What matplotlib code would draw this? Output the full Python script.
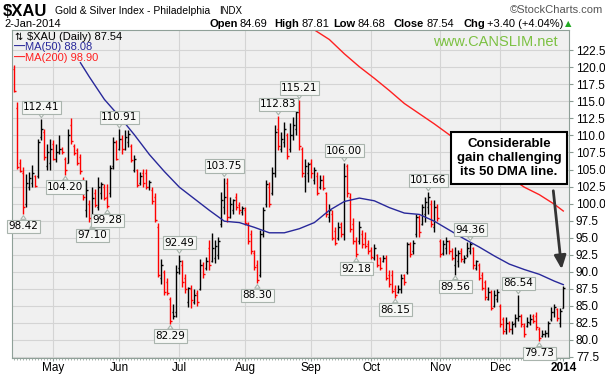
import numpy as np
import pandas as pd
import matplotlib
matplotlib.use("Agg")
from matplotlib import pyplot as plt

plt.rcParams['font.family'] = ['Liberation Sans', 'DejaVu Sans']

# daily bars, 12-Apr-2013 .. 2-Jan-2014
highs = [120.3, 114.9, 106.6, 105.4, 104.4, 104.6, 105.6, 104.2, 109.5, 112.41,
         110.9, 108.8, 109.5, 109.3, 108.8, 110.0, 108.3, 106.9, 111.0, 112.6,
         108.8, 108.1, 107.3, 103.9, 103.4, 100.5, 102.4, 102.2, 103.9, 103.2,
         102.9, 102.9, 105.6, 109.8, 109.3, 110.91, 110.0, 110.8, 110.8, 108.8,
         107.1, 105.1, 104.6, 105.1, 105.1, 103.4, 102.4, 101.5, 97.1, 91.9,
         90.2, 89.0, 86.3, 85.3, 90.9, 92.49, 91.7, 89.7, 87.7, 88.0,
         87.5, 87.3, 91.9, 91.4, 92.2, 94.6, 95.6, 94.6, 95.1, 101.7,
         103.75, 103.7, 101.0, 100.7, 101.5, 100.2, 99.7, 99.5, 97.3, 96.1,
         93.1, 91.7, 96.1, 99.5, 103.4, 103.2, 105.4, 111.5, 112.83, 110.5,
         112.0, 110.3, 111.8, 112.7, 114.2, 115.21, 108.3, 106.6, 106.1, 106.6,
         105.4, 104.6, 104.2, 104.2, 101.7, 100.0, 99.0, 96.6, 97.3, 97.3,
         106.00, 105.8, 101.5, 97.8, 95.1, 97.5, 96.1, 95.8, 94.6, 93.6,
         94.1, 92.6, 92.2, 92.4, 92.4, 90.2, 90.2, 88.0, 88.0, 89.7,
         89.7, 94.4, 94.4, 94.6, 98.5, 98.3, 100.0, 101.0, 101.66, 100.5,
         100.5, 100.0, 94.8, 94.6, 95.1, 94.6, 93.4, 93.6, 93.1, 93.4,
         92.4, 94.4, 94.36, 93.6, 91.7, 91.2, 89.9, 88.7, 87.7, 87.3,
         87.3, 87.5, 85.3, 83.3, 83.3, 82.8, 82.8, 83.8, 86.54, 83.8,
         82.4, 83.3, 83.8, 83.8, 84.1, 81.9, 81.4, 81.4, 82.8, 84.8,
         85.3, 84.6, 84.6, 87.81]
lows = [116.4, 105.1, 104.6, 98.42, 99.5, 102.0, 102.4, 102.4, 103.7, 109.3,
        106.4, 104.9, 104.9, 106.4, 106.1, 107.3, 107.3, 104.2, 105.9, 108.8,
        107.1, 105.6, 104.4, 100.5, 98.0, 97.3, 97.10, 99.5, 99.0, 100.7,
        100.5, 99.28, 101.0, 105.1, 106.4, 107.8, 107.3, 107.8, 108.3, 106.1,
        104.6, 102.4, 102.7, 102.4, 102.2, 102.0, 100.0, 97.3, 89.2, 88.2,
        86.5, 86.5, 82.29, 83.1, 83.3, 89.7, 87.7, 86.8, 84.8, 84.6,
        85.3, 85.0, 87.3, 89.0, 90.2, 90.2, 91.4, 91.2, 91.9, 96.6,
        98.5, 97.3, 97.8, 98.5, 99.0, 98.5, 98.3, 96.8, 94.1, 92.6,
        90.2, 88.30, 89.2, 95.1, 99.5, 99.5, 101.2, 103.9, 107.8, 107.6,
        108.3, 106.6, 107.6, 109.3, 110.0, 107.8, 103.9, 101.7, 103.2, 103.7,
        102.9, 101.2, 102.2, 102.0, 98.0, 97.3, 94.6, 93.9, 94.6, 95.1,
        94.6, 101.0, 95.8, 94.1, 92.18, 94.1, 93.4, 93.4, 92.6, 91.9,
        91.7, 90.7, 90.2, 91.4, 88.7, 87.7, 86.8, 86.15, 86.8, 86.8,
        88.0, 89.7, 92.2, 92.6, 95.1, 95.1, 96.8, 97.3, 98.5, 96.6,
        95.8, 97.5, 92.2, 92.4, 92.6, 92.6, 91.7, 89.56, 90.7, 91.4,
        91.2, 92.2, 92.6, 90.4, 90.2, 88.7, 87.3, 85.8, 85.8, 84.3,
        84.8, 85.5, 81.9, 80.9, 80.9, 81.1, 80.9, 81.9, 82.8, 81.9,
        80.4, 81.9, 82.1, 82.4, 81.4, 79.73, 80.4, 80.4, 80.4, 82.8,
        83.3, 82.8, 81.9, 84.68]
closes = [116.5, 105.4, 104.8, 99.5, 103.0, 103.8, 104.5, 102.6, 109.0, 111.0,
          106.8, 107.5, 108.0, 106.6, 107.6, 108.0, 107.5, 105.0, 110.0, 109.2,
          107.4, 106.0, 104.8, 101.0, 102.0, 97.8, 100.8, 99.8, 102.5, 102.8,
          100.8, 99.6, 105.2, 109.0, 106.6, 109.5, 108.0, 109.8, 110.2, 106.4,
          106.6, 102.7, 104.0, 103.0, 102.5, 103.2, 100.3, 97.6, 89.5, 91.0,
          87.0, 86.8, 82.8, 83.5, 90.0, 91.5, 88.5, 87.5, 87.6, 85.8,
          86.5, 85.5, 91.0, 89.6, 91.5, 91.0, 93.5, 93.8, 94.5, 100.5,
          101.0, 98.0, 100.0, 100.5, 99.5, 99.0, 99.3, 97.2, 94.5, 93.0,
          90.6, 88.8, 95.5, 99.0, 102.8, 100.0, 104.5, 110.5, 108.5, 109.5,
          111.0, 107.0, 110.0, 111.5, 113.5, 108.5, 104.5, 105.5, 105.8, 104.5,
          105.0, 101.5, 103.5, 102.3, 98.5, 99.0, 95.0, 94.2, 96.5, 95.5,
          104.0, 101.5, 96.2, 94.5, 92.6, 96.5, 94.0, 93.8, 93.0, 92.2,
          93.5, 91.0, 90.5, 92.0, 89.0, 88.2, 87.2, 86.6, 87.5, 89.0,
          88.4, 94.0, 92.6, 94.2, 98.0, 95.8, 99.5, 100.2, 101.0, 97.0,
          99.5, 97.8, 92.6, 94.0, 94.5, 93.0, 92.0, 92.5, 92.8, 91.8,
          92.0, 93.5, 94.0, 91.0, 91.5, 89.0, 87.6, 86.2, 87.0, 84.7,
          86.5, 87.0, 82.3, 81.2, 82.5, 81.5, 82.3, 83.2, 83.5, 82.3,
          80.8, 82.6, 83.0, 82.7, 81.8, 80.2, 80.8, 81.0, 82.5, 84.0,
          84.8, 83.2, 84.14, 87.54]
opens = [119.8, 114.0, 106.0, 104.5, 100.0, 102.5, 103.0, 104.0, 104.0, 109.8,
         110.5, 105.5, 106.0, 108.8, 106.5, 107.5, 108.0, 106.5, 106.0, 111.5,
         108.5, 107.8, 106.8, 103.5, 99.0, 100.0, 98.0, 101.5, 99.5, 101.5,
         102.5, 101.0, 101.5, 105.5, 109.0, 108.0, 109.5, 108.0, 109.0, 108.5,
         105.0, 105.0, 103.0, 104.5, 104.5, 102.5, 102.0, 101.0, 96.5, 89.0,
         90.0, 88.5, 86.0, 84.0, 84.0, 90.5, 91.0, 89.0, 85.5, 87.5,
         85.5, 86.8, 87.5, 91.0, 90.5, 93.5, 91.5, 92.0, 92.5, 97.0,
         99.5, 103.0, 98.0, 99.0, 101.0, 99.8, 98.8, 99.0, 97.0, 95.5,
         92.8, 91.0, 89.5, 95.5, 100.0, 102.5, 101.5, 104.5, 111.0, 108.0,
         109.0, 110.0, 108.0, 110.0, 111.0, 113.5, 108.0, 104.0, 104.5, 106.0,
         103.5, 104.0, 102.5, 103.5, 101.5, 98.0, 98.5, 96.0, 95.0, 97.0,
         95.5, 105.5, 101.0, 97.0, 94.5, 94.5, 95.5, 95.0, 94.0, 93.2,
         92.0, 92.5, 92.0, 91.5, 92.0, 89.5, 89.5, 87.5, 87.0, 87.5,
         89.5, 90.0, 94.0, 93.0, 95.5, 98.0, 97.0, 98.5, 99.5, 100.0,
         96.5, 99.5, 94.5, 92.8, 93.5, 94.5, 93.0, 91.0, 91.5, 93.0,
         91.5, 92.5, 93.0, 93.5, 90.5, 91.0, 89.5, 88.5, 86.0, 87.0,
         85.0, 86.0, 85.0, 83.0, 81.5, 82.5, 81.5, 82.5, 83.2, 83.5,
         82.0, 82.0, 82.5, 83.5, 83.5, 81.5, 80.5, 80.8, 81.0, 83.0,
         84.0, 84.5, 82.5, 84.69]

# moving averages (trading-day index, value)
ma50_idx = [22, 25, 30, 35, 40, 45, 50, 55, 60, 65, 70, 75, 80, 85, 90, 95, 100,
            105, 110, 115, 120, 125, 130, 135, 140, 145, 150, 155, 160, 165, 170,
            175, 180, 183]
ma50_val = [120.7, 118.6, 115.3, 112.8, 110.1, 107.2, 104.7, 102.4, 100.7, 99.0,
            97.4, 97.2, 96.5, 95.7, 95.7, 96.3, 97.2, 99.0, 100.3, 100.8, 100.4,
            99.4, 98.6, 98.4, 97.4, 96.1, 94.8, 93.6, 92.3, 91.1, 90.3, 89.6,
            88.6, 88.08]
ma200_idx = [99, 105, 110, 115, 120, 125, 130, 135, 140, 145, 150, 155, 160, 165,
             170, 175, 180, 183]
ma200_val = [125.8, 124.1, 122.0, 120.1, 118.4, 116.6, 114.7, 113.2, 111.7, 110.1,
             108.5, 107.0, 105.4, 103.9, 102.4, 101.3, 99.9, 98.9]

# price labels: (bar index, value, 'h' above / 'l' below)
labels = [(9, 112.41, 'h'), (3, 98.42, 'l'), (17, 104.20, 'l'), (35, 110.91, 'h'),
          (26, 97.10, 'l'), (31, 99.28, 'l'), (55, 92.49, 'h'), (52, 82.29, 'l'),
          (70, 103.75, 'h'), (81, 88.30, 'l'), (88, 112.83, 'h'), (95, 115.21, 'h'),
          (110, 106.00, 'h'), (114, 92.18, 'l'), (127, 86.15, 'l'), (138, 101.66, 'h'),
          (152, 94.36, 'h'), (147, 89.56, 'l'), (168, 86.54, 'h'), (175, 79.73, 'l')]

holidays = ['2013-05-27', '2013-07-04', '2013-09-02', '2013-11-28', '2013-12-25',
            '2014-01-01']
dates = pd.bdate_range('2013-04-12', '2014-01-02')
dates = dates[~dates.isin(pd.to_datetime(holidays))]

W, H = 605, 376
fig = plt.figure(figsize=(W / 100, H / 100), dpi=100)
ax = fig.add_axes([12 / W, 1 - 358 / H, (569 - 12) / W, (358 - 30) / H])
ax.set_facecolor('#f0f0f0')

x = np.arange(len(closes))
c = np.array(closes)
up = np.r_[c[0] > opens[0], c[1:] > c[:-1]]
cols = np.where(up, 'black', '#ff0000')

ax.vlines(x, lows, highs, colors=cols, lw=1.0)
ax.hlines(opens, x - 0.55, x, colors=cols, lw=1.0)
ax.hlines(closes, x, x + 0.55, colors=cols, lw=1.0)

ax.plot(ma50_idx, ma50_val, color='#28289a', lw=1.0)
ax.plot(ma200_idx, ma200_val, color='#ff2020', lw=1.0)

for i, v, side in labels:
    y = highs[i] if side == 'h' else lows[i]
    off = 12 if side == 'h' else -12
    ax.annotate('%.2f' % v, xy=(i, y), xytext=(0, off), textcoords='offset pixels',
                ha='center', va='center', fontsize=7.5,
                family=['DejaVu Sans'],
                bbox=dict(boxstyle='square,pad=0.15', fc='#f6f7f5', ec='#a9b4ad', lw=0.8),
                arrowprops=dict(arrowstyle='wedge,tail_width=0.5,shrink_factor=0.5',
                                fc='#f6f7f5', ec='#a9b4ad', lw=0.8,
                                shrinkA=0, shrinkB=1))

ax.set_xlim(-0.8, 184.9)
ax.set_ylim(77.3, 125.5)

yt = np.arange(77.5, 123, 2.5)
ax.set_yticks(yt)
ax.set_yticklabels(['%.1f' % t for t in yt])
ax.yaxis.tick_right()
ax.grid(axis='y', color='#d4d4d4', lw=0.8)

month_pos = [k for k in range(1, len(dates)) if dates[k].month != dates[k - 1].month]
month_lab = [dates[k].strftime('%b') if dates[k].month != 1 else str(dates[k].year)
             for k in month_pos]
ax.set_xticks(month_pos)
ax.set_xticklabels(month_lab)
for k, t in zip(month_pos, ax.get_xticklabels()):
    if dates[k].month == 1:
        t.set_fontweight('bold')
for k in month_pos[:-1]:
    ax.axvline(k, color='#d4d4d4', lw=0.8, zorder=0)
ax.set_xticks(x, minor=True)
ax.set_axisbelow(True)

ax.tick_params(axis='y', labelsize=8.5, length=3, color='#8a9a92', pad=2)
ax.tick_params(axis='x', which='major', labelsize=8.5, length=2, color='#8a9a92', pad=1)
ax.tick_params(axis='x', which='minor', length=1.5, color='#9aa8a0')
for s in ax.spines.values():
    s.set_color('#8fa098')

def fx(px):
    return px / W

def fy(py):
    return 1 - py / H

# header
fig.text(fx(3), fy(11), '$XAU', fontsize=12, fontweight='bold', va='center')
fig.text(fx(55), fy(11), 'Gold & Silver Index - Philadelphia', fontsize=7.5, va='center')
fig.text(fx(219), fy(11.5), 'INDX', fontsize=7, va='center')
fig.text(fx(4), fy(24), '2-Jan-2014', fontsize=8, va='center')
fig.text(fx(603), fy(10), '\u00a9StockCharts.com', fontsize=8, color='#555555',
         ha='right', va='center')
hdr = [(209, 'Open', True), (240, '84.69', False), (274, 'High', True),
       (302, '87.81', False), (333, 'Low', True), (358, '84.68', False),
       (394, 'Close', True), (426, '87.54', False), (463, 'Chg', True),
       (487, '+3.40 (+4.04%)', False)]
for px, s, b in hdr:
    fig.text(fx(px), fy(24), s, fontsize=8, va='center',
             fontweight='bold' if b else 'normal')
fig.text(fx(565), fy(24), '\u25b2', fontsize=6, color='#22aa22', va='center',
         family=['DejaVu Sans'])

# legend
fig.text(fx(14), fy(37), '\u21c5', fontsize=7, va='center', family=['DejaVu Sans'])
fig.text(fx(27), fy(37), '$XAU (Daily) 87.54', fontsize=8, va='center')
fig.text(fx(14), fy(47), '\u2014', fontsize=8, va='center', color='#28289a', fontweight='bold')
fig.text(fx(25), fy(47), 'MA(50) 88.08', fontsize=8, va='center', color='#28289a')
fig.text(fx(14), fy(58), '\u2014', fontsize=8, va='center', color='#ff2020', fontweight='bold')
fig.text(fx(25), fy(58), 'MA(200) 98.90', fontsize=8, va='center', color='#ff2020')

fig.text(fx(495), fy(42), 'www.CANSLIM.net', fontsize=10.5, color='#7cc142',
         ha='center', va='center')

# comment box with arrow
ax.annotate('', xy=(562, H - 272), xycoords='figure pixels',
            xytext=(553, H - 188), textcoords='figure pixels',
            arrowprops=dict(arrowstyle='-|>,head_length=0.8,head_width=0.35',
                            color='#333333', lw=2))
fig.text(fx(509), fy(158), 'Considerable\ngain challenging\nits 50 DMA line.',
         fontsize=9.5, fontweight='bold', ha='center', va='center', linespacing=1.25,
         bbox=dict(boxstyle='square,pad=0.45', fc='white', ec='black', lw=1.5))

fig.savefig('out.png', dpi=100)
